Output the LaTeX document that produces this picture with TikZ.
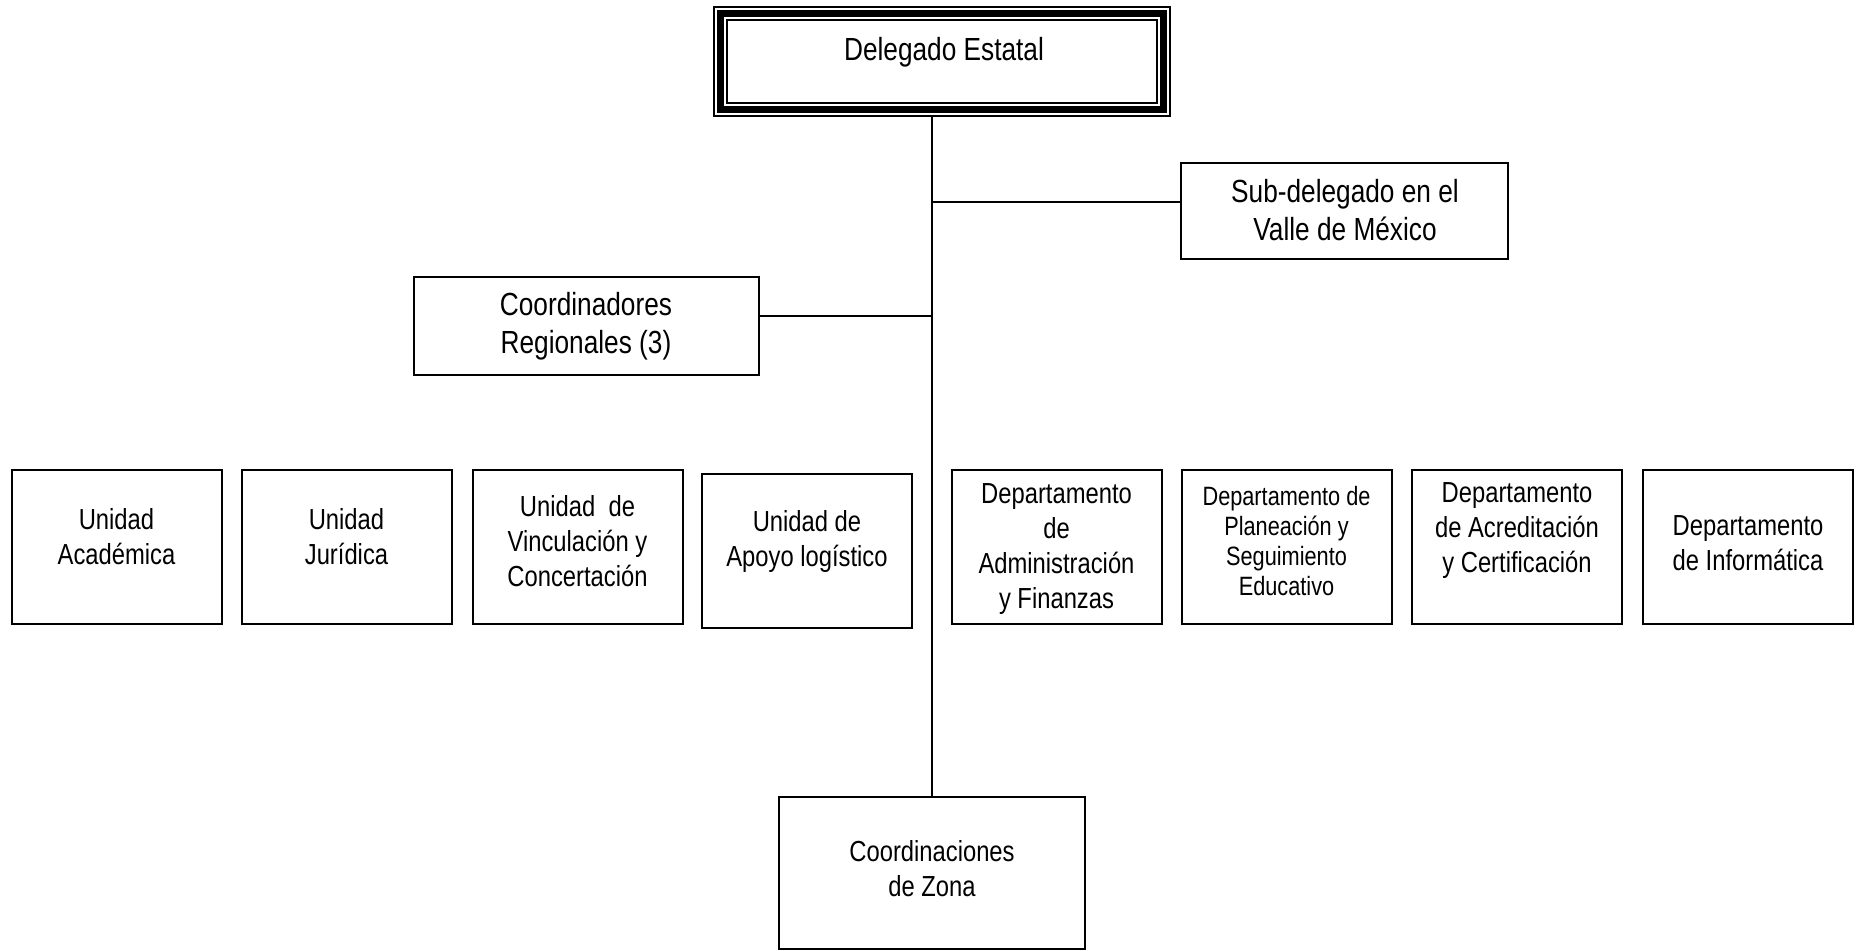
\documentclass[tikz,border=0pt]{standalone}
\usepackage{fontspec}
\setmainfont{Liberation Sans}[FakeStretch=0.82]
\begin{document}
\begin{tikzpicture}[x=1pt,y=-1pt,
  box/.style={draw=black,line width=2pt,rectangle,inner sep=0pt,outer sep=0pt,fill=white},
  rowbox/.style={box,minimum width=210pt,minimum height=154pt},
  lbl/.style={align=center,inner sep=0pt,font=\fontsize{29}{35}\selectfont},
  biglbl/.style={lbl,font=\fontsize{32}{38}\selectfont},
  smalllbl/.style={lbl,font=\fontsize{26.5}{30}\selectfont},
  link/.style={line width=2.5pt}]
\useasboundingbox (0,0) rectangle (1865,950);

% head of the chart (its framed border is drawn further down)
\node[minimum width=443pt,minimum height=96pt,inner sep=0pt,outer sep=0pt] (del) at (942,61.5) {};

% boxes
\node[box,minimum width=327pt,minimum height=96pt] (sub) at (1344.5,211) {};
\node[box,minimum width=345pt,minimum height=98pt] (cr) at (586.5,326) {};
\node[box,minimum width=306pt,minimum height=152pt] (coz) at (932,873) {};

\node[rowbox] (ua)  at (116.5,547) {};
\node[rowbox] (uj)  at (346.5,547) {};
\node[rowbox] (uv)  at (577.5,547) {};
\node[rowbox] (ual) at (807,550.5) {};
\node[rowbox] (da)  at (1056.5,547) {};
\node[rowbox] (dp)  at (1286.5,547) {};
\node[rowbox] (dac) at (1517,547) {};
\node[rowbox] (di)  at (1748,547) {};

% branch points on the side boxes, a little above their middles
\coordinate (sj) at ([yshift=9pt]sub.west);
\coordinate (cj) at ([yshift=10pt]cr.east);

% connectors
\draw[link] (coz.north |- del.south) -- (coz.north);
\draw[link] (coz.north |- sj) -- (sj);
\draw[link] (coz.north |- cj) -- (cj);

% triple frame of the head box
\draw[line width=15pt] (del.north west) rectangle (del.south east);
\draw[line width=11pt,white] (del.north west) rectangle (del.south east);
\draw[line width=7pt] (del.north west) rectangle (del.south east);

% labels
\node[biglbl] (tdel) at (944,52) {Delegado Estatal};
\node[biglbl] (tsub) at (1345,210) {Sub-delegado en el\\Valle de México};
\node[biglbl] (tcr)  at (586,326) {Coordinadores\\Regionales (3)};
\node[lbl] (tcoz) at (932,869) {Coordinaciones\\de Zona};

\node[lbl] (tua)  at (116.5,537) {Unidad\\Académica};
\node[lbl] (tuj)  at (346.5,537) {Unidad\\Jurídica};
\node[lbl] (tuv)  at (577.5,541) {Unidad\ \ de\\Vinculación y\\Concertación};
\node[lbl] (tual) at (807,541) {Unidad de\\Apoyo logístico};
\node[lbl] (tda)  at (1056.5,549) {Departamento\\de\\Administración\\y Finanzas};
\node[smalllbl] (tdp) at (1286.5,541) {Departamento de\\Planeación y\\Seguimiento\\Educativo};
\node[lbl] (tdac) at (1517,531) {Departamento\\de Acreditación\\y Certificación};
\node[lbl] (tdi)  at (1748,543) {Departamento\\de Informática};
\end{tikzpicture}
\end{document}
